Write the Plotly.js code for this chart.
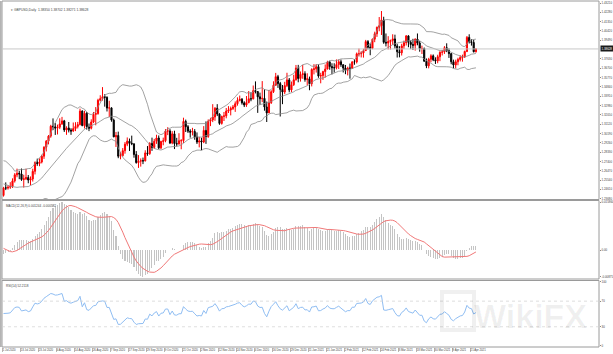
<!DOCTYPE html>
<html><head><meta charset="utf-8">
<script src="https://cdn.plot.ly/plotly-3.0.1.min.js"></script>
<style>html,body{margin:0;padding:0;background:#fff;}#chart{width:613px;height:354px;}</style>
</head><body><div id="chart"></div>
<script>
// ---- Data: GBPUSD daily, 1 Jul 2020 .. 23 Apr 2021 ----
const symbolTitle = "GBPUSD,Daily  1.38350 1.38702 1.38271 1.38628";
const lastPrice = 1.38628;
// closes before the visible window (May-Jun 2020), used only to seed indicators
const priorClose = [1.2490,1.2435,1.2437,1.2339,1.2338,1.2407,1.2334,1.2337,1.2218,1.2212,1.2111,1.2228,1.2243,1.2226,1.2198,1.2163,1.2204,1.2331,1.2273,1.2337,1.2344,
 1.2485,1.2567,1.2564,1.2570,1.2668,1.2673,1.2667,1.2740,1.2592,1.2549,1.2573,1.2567,1.2546,1.2479,1.2348,1.2474,1.2490,1.2424,1.2419,1.2335,1.2332,1.2401];

const open = [
 1.2401,1.2477,1.2475,1.2483,1.2491,1.2547,1.2607,1.2622,1.2616,1.2560,1.2568,1.2580,1.2555,1.2566,1.2642,1.2730,1.2720,1.2735,1.2793,1.2883,1.2943,1.2993,1.3092,
 1.3086,1.3073,1.3082,1.3115,1.3145,1.3055,1.3075,1.3053,1.3044,1.3068,1.3090,1.3108,1.3243,1.3098,1.3221,1.3087,1.3072,1.3134,1.3210,1.3218,1.3351,
 1.3367,1.3386,1.3380,1.3273,1.3275,1.3153,1.2986,1.2999,1.2793,1.2798,1.2848,1.2913,1.2943,1.2922,1.2917,1.2810,1.2729,1.2743,1.2748,1.2746,1.2826,1.2819,
 1.2920,1.2880,1.2942,1.2975,1.2876,1.2940,1.2947,1.3044,1.3045,1.2925,1.3016,1.2918,1.2915,1.2947,1.2948,1.3140,1.3087,1.3043,1.3033,1.3039,1.2985,1.2934,
 1.2945,1.2935,1.3050,1.2989,1.3143,1.3155,1.3184,1.3271,1.3213,1.3120,1.3190,1.3195,1.3243,1.3254,1.3269,1.3284,1.3316,1.3349,1.3361,1.3325,1.3303,
 1.3328,1.3366,1.3365,1.3447,1.3438,1.3385,1.3366,1.3370,1.3284,1.3225,1.3327,1.3436,1.3500,1.3586,1.3517,1.3459,1.3433,1.3497,1.3554,1.3454,1.3506,1.3555,
 1.3672,1.3568,1.3608,1.3615,1.3558,1.3565,1.3516,1.3658,1.3664,1.3686,1.3592,1.3598,1.3637,1.3662,1.3732,1.3687,1.3676,1.3675,1.3707,1.3735,
 1.3706,1.3672,1.3651,1.3671,1.3670,1.3734,1.3733,1.3814,1.3815,1.3823,1.3846,1.3936,1.3880,1.3868,1.3960,1.4014,1.4079,1.4094,1.4152,1.3929,
 1.3922,1.3936,1.3948,1.3963,1.3893,1.3835,1.3824,1.3893,1.3925,1.3993,1.3929,1.3907,1.3899,1.3962,1.3922,1.3866,1.3867,1.3740,1.3694,1.3760,1.3794,1.3754,1.3744,
 1.3785,1.3829,1.3833,1.3875,1.3846,1.3816,1.3735,1.3703,1.3735,1.3758,1.3777,1.3783,1.3838,1.3978,1.3935,1.3927,1.3835];
const high = [
 1.2487,1.2532,1.2503,1.2534,1.2572,1.2624,1.2669,1.2648,1.2670,1.2608,1.2668,1.2605,1.2591,1.2668,1.2741,1.2769,1.2771,1.2808,1.2892,1.2954,1.3004,1.3106,1.3170,
 1.3124,1.3108,1.3171,1.3185,1.3155,1.3091,1.3134,1.3072,1.3129,1.3132,1.3135,1.3267,1.3251,1.3246,1.3233,1.3119,1.3161,1.3234,1.3283,1.3366,1.3401,
 1.3482,1.3411,1.3390,1.3346,1.3279,1.3168,1.3035,1.3038,1.2835,1.2874,1.2934,1.2980,1.2969,1.2998,1.2918,1.2844,1.2804,1.2771,1.2779,1.2852,1.2894,1.2933,
 1.2978,1.2966,1.3007,1.3000,1.2947,1.2978,1.3063,1.3082,1.3063,1.3043,1.3047,1.2976,1.3022,1.2963,1.3177,1.3158,1.3103,1.3062,1.3076,1.3063,1.3030,1.2985,
 1.2977,1.3093,1.3140,1.3160,1.3176,1.3312,1.3283,1.3312,1.3221,1.3197,1.3234,1.3274,1.3292,1.3288,1.3304,1.3339,1.3380,1.3398,1.3373,1.3341,1.3393,
 1.3443,1.3431,1.3498,1.3539,1.3441,1.3427,1.3542,1.3460,1.3338,1.3454,1.3451,1.3540,1.3624,1.3604,1.3534,1.3503,1.3535,1.3625,1.3573,1.3538,1.3605,1.3703,
 1.3704,1.3638,1.3703,1.3640,1.3620,1.3587,1.3670,1.3711,1.3711,1.3709,1.3625,1.3645,1.3708,1.3745,1.3746,1.3720,1.3720,1.3758,1.3757,1.3757,
 1.3709,1.3703,1.3686,1.3717,1.3738,1.3760,1.3827,1.3867,1.3840,1.3865,1.3953,1.3951,1.3918,1.3966,1.4035,1.4086,1.4181,1.4241,1.4184,1.4017,
 1.3990,1.3955,1.4009,1.4005,1.3914,1.3890,1.3914,1.3946,1.4001,1.3999,1.3948,1.3964,1.3967,1.4017,1.3941,1.3896,1.3877,1.3768,1.3774,1.3810,1.3808,1.3779,1.3805,
 1.3840,1.3853,1.3891,1.3919,1.3870,1.3822,1.3756,1.3756,1.3775,1.3800,1.3806,1.3846,1.3992,1.4009,1.3961,1.3953,1.3870];
const low = [
 1.2390,1.2455,1.2460,1.2467,1.2476,1.2530,1.2583,1.2564,1.2547,1.2480,1.2555,1.2523,1.2503,1.2540,1.2611,1.2697,1.2693,1.2721,1.2766,1.2840,1.2911,1.2977,1.3053,
 1.3005,1.3010,1.3063,1.3105,1.3035,1.3006,1.3030,1.3006,1.3036,1.3043,1.3070,1.3100,1.3092,1.3070,1.3058,1.3043,1.3060,1.3123,1.3101,1.3207,1.3339,
 1.3347,1.3287,1.3239,1.3184,1.3137,1.2982,1.2885,1.2773,1.2762,1.2791,1.2818,1.2893,1.2845,1.2903,1.2778,1.2719,1.2676,1.2689,1.2714,1.2741,1.2797,1.2806,
 1.2846,1.2866,1.2916,1.2865,1.2863,1.2902,1.2932,1.3003,1.2914,1.2912,1.2864,1.2890,1.2908,1.2862,1.2924,1.3034,1.3025,1.2978,1.3000,1.2957,1.2915,1.2881,
 1.2854,1.2923,1.2916,1.2976,1.3093,1.3133,1.3146,1.3193,1.3106,1.3108,1.3144,1.3171,1.3224,1.3200,1.3254,1.3235,1.3297,1.3339,1.3307,1.3283,1.3285,
 1.3320,1.3341,1.3360,1.3419,1.3225,1.3307,1.3332,1.3247,1.3134,1.3223,1.3314,1.3423,1.3498,1.3474,1.3189,1.3312,1.3412,1.3482,1.3430,1.3432,1.3494,1.3547,
 1.3530,1.3537,1.3565,1.3536,1.3500,1.3451,1.3489,1.3609,1.3627,1.3575,1.3520,1.3554,1.3578,1.3660,1.3655,1.3609,1.3627,1.3659,1.3663,1.3684,
 1.3628,1.3611,1.3599,1.3566,1.3663,1.3705,1.3718,1.3787,1.3778,1.3776,1.3844,1.3858,1.3800,1.3860,1.3930,1.3983,1.4039,1.4002,1.3914,1.3888,
 1.3858,1.3857,1.3904,1.3866,1.3777,1.3779,1.3797,1.3862,1.3897,1.3880,1.3861,1.3852,1.3846,1.3899,1.3835,1.3812,1.3736,1.3671,1.3669,1.3730,1.3741,1.3713,1.3720,
 1.3741,1.3798,1.3813,1.3831,1.3773,1.3710,1.3670,1.3669,1.3700,1.3738,1.3736,1.3773,1.3831,1.3917,1.3896,1.3828,1.3827];
const close = [
 1.2477,1.2475,1.2483,1.2491,1.2547,1.2607,1.2622,1.2616,1.2560,1.2568,1.2580,1.2555,1.2566,1.2642,1.2730,1.2720,1.2735,1.2793,1.2883,1.2943,1.2993,1.3092,1.3086,
 1.3073,1.3082,1.3115,1.3145,1.3055,1.3075,1.3053,1.3044,1.3068,1.3090,1.3108,1.3243,1.3098,1.3221,1.3087,1.3072,1.3134,1.3210,1.3218,1.3351,1.3367,
 1.3386,1.3380,1.3273,1.3275,1.3153,1.2986,1.2999,1.2793,1.2798,1.2848,1.2913,1.2943,1.2922,1.2917,1.2810,1.2729,1.2743,1.2748,1.2746,1.2826,1.2819,1.2920,
 1.2880,1.2942,1.2975,1.2876,1.2940,1.2947,1.3044,1.3045,1.2925,1.3016,1.2918,1.2915,1.2947,1.2948,1.3140,1.3087,1.3043,1.3033,1.3039,1.2985,1.2934,1.2945,
 1.2935,1.3050,1.2989,1.3143,1.3155,1.3184,1.3271,1.3213,1.3120,1.3190,1.3195,1.3243,1.3254,1.3269,1.3284,1.3316,1.3349,1.3361,1.3325,1.3303,1.3328,
 1.3366,1.3365,1.3447,1.3438,1.3385,1.3366,1.3370,1.3284,1.3225,1.3327,1.3436,1.3500,1.3586,1.3517,1.3459,1.3433,1.3497,1.3554,1.3454,1.3506,1.3555,1.3672,
 1.3568,1.3608,1.3615,1.3558,1.3565,1.3516,1.3658,1.3664,1.3686,1.3592,1.3598,1.3637,1.3662,1.3732,1.3687,1.3676,1.3675,1.3707,1.3735,1.3706,
 1.3672,1.3651,1.3671,1.3670,1.3734,1.3733,1.3814,1.3815,1.3823,1.3846,1.3936,1.3880,1.3868,1.3960,1.4014,1.4079,1.4094,1.4152,1.3929,1.3922,
 1.3936,1.3948,1.3963,1.3893,1.3835,1.3824,1.3893,1.3925,1.3993,1.3929,1.3907,1.3899,1.3962,1.3922,1.3866,1.3867,1.3740,1.3694,1.3760,1.3794,1.3754,1.3744,1.3785,
 1.3829,1.3833,1.3875,1.3846,1.3816,1.3735,1.3703,1.3735,1.3758,1.3777,1.3783,1.3838,1.3978,1.3935,1.3927,1.3835,1.3863];

// date labels shown every 8 bars
const dateLabels = ["1 Jul 2020","13 Jul 2020","23 Jul 2020","4 Aug 2020","14 Aug 2020","26 Aug 2020","7 Sep 2020","17 Sep 2020","29 Sep 2020","9 Oct 2020","21 Oct 2020","2 Nov 2020","12 Nov 2020","24 Nov 2020","4 Dec 2020","16 Dec 2020","29 Dec 2020","11 Jan 2021","21 Jan 2021","2 Feb 2021","12 Feb 2021","24 Feb 2021","8 Mar 2021","18 Mar 2021","30 Mar 2021","9 Apr 2021","21 Apr 2021"];
// price scale labels
const priceTicks = [1.43210,1.42280,1.41350,1.40420,1.39490,1.37630,1.36700,1.35770,1.34840,1.33910,1.32980,1.32050,1.31120,1.30190,1.29260,1.28330,1.27400,1.26470,1.25540,1.24610,1.23680];
const rsiTicks = [100,70,30,0];

// ---- Indicators (computed from closes, as the terminal does) ----
const all = priorClose.concat(close);
const off = priorClose.length, N = all.length;
const idx = close.map((_, i) => i);
const bbMid = [], bbUp = [], bbLo = [];
for (let i = off; i < N; i++) {
  let s = 0; for (let j = i - 19; j <= i; j++) s += all[j];
  const m = s / 20; let v = 0;
  for (let j = i - 19; j <= i; j++) v += (all[j] - m) ** 2;
  const sd = Math.sqrt(v / 20);
  bbMid.push(m); bbUp.push(m + 2 * sd); bbLo.push(m - 2 * sd);
}
function ema(arr, n) { const k = 2 / (n + 1); const o = [arr[0]]; for (let i = 1; i < arr.length; i++) o.push(arr[i] * k + o[i - 1] * (1 - k)); return o; }
const e12 = ema(all, 12), e26 = ema(all, 26);
const macdAll = all.map((_, i) => e12[i] - e26[i]);
const sigAll = macdAll.map((_, i) => { if (i < 8) return macdAll[i]; let s = 0; for (let j = i - 8; j <= i; j++) s += macdAll[j]; return s / 9; });
const macd = macdAll.slice(off), sig = sigAll.slice(off);
const rsiAll = new Array(N).fill(50);
let ag = 0, al = 0;
for (let i = 1; i <= 14; i++) { const d = all[i] - all[i - 1]; if (d > 0) ag += d; else al -= d; }
ag /= 14; al /= 14;
rsiAll[14] = 100 - 100 / (1 + ag / al);
for (let i = 15; i < N; i++) { const d = all[i] - all[i - 1]; ag = (ag * 13 + Math.max(d, 0)) / 14; al = (al * 13 + Math.max(-d, 0)) / 14; rsiAll[i] = al === 0 ? 100 : 100 - 100 / (1 + ag / al); }
const rsi = rsiAll.slice(off);
const mMax = Math.max(...macd, ...sig), mMin = Math.min(...macd, ...sig);
const mSpan = mMax - mMin;

// ---- Layout geometry ----
const H = 346, B = 347; // plot area from y=1 to y=347
const dom = (top, bot) => [(B - bot) / H, (B - top) / H];
const dMain = dom(1, 199.5), dMacd = dom(200.5, 279), dRsi = dom(280.5, 347);
const FONT = "Liberation Sans, Arial, sans-serif";
const gray = "#9a9a9a";
const axFont = {size: 2.9, color: "#444", family: FONT};

const traces = [
  {type: "scatter", mode: "lines", x: idx, y: bbUp, line: {color: "#8a8a8a", width: 0.8}, hoverinfo: "skip", xaxis: "x", yaxis: "y"},
  {type: "scatter", mode: "lines", x: idx, y: bbMid, line: {color: "#8a8a8a", width: 0.8}, hoverinfo: "skip", xaxis: "x", yaxis: "y"},
  {type: "scatter", mode: "lines", x: idx, y: bbLo, line: {color: "#8a8a8a", width: 0.8}, hoverinfo: "skip", xaxis: "x", yaxis: "y"},
  {type: "candlestick", x: idx, open: open, high: high, low: low, close: close, xaxis: "x", yaxis: "y",
   increasing: {line: {color: "#ff0000", width: 1}, fillcolor: "#ff0000"},
   decreasing: {line: {color: "#000000", width: 1}, fillcolor: "#000000"},
   whiskerwidth: 0, hoverinfo: "skip"},
  {type: "bar", x: idx, y: macd, width: 0.45, marker: {color: "#c4c4c4", line: {width: 0}}, xaxis: "x", yaxis: "y2", hoverinfo: "skip"},
  {type: "scatter", mode: "lines", x: idx, y: sig, line: {color: "#f07878", width: 1}, xaxis: "x", yaxis: "y2", hoverinfo: "skip"},
  {type: "scatter", mode: "lines", x: idx, y: rsi, line: {color: "#8fbdf2", width: 1}, xaxis: "x", yaxis: "y3", hoverinfo: "skip"}
];

const tickIdx = dateLabels.map((_, k) => k * 8 - 0.5);
const frame = (d) => ({type: "rect", xref: "paper", yref: "paper", x0: 0, x1: 1, y0: d[0], y1: d[1], line: {color: gray, width: 1}});
const px = (x) => (x - 2) / 597, py = (y) => (B - y) / H;
const layout = {
  width: 613, height: 354,
  margin: {l: 2, r: 14, t: 1, b: 7},
  paper_bgcolor: "#ffffff", plot_bgcolor: "#ffffff",
  showlegend: false, bargap: 0, dragmode: false,
  font: {family: FONT, size: 3, color: "#333"},
  xaxis: {range: [-0.67, 264.7], anchor: "y3", showgrid: false, zeroline: false,
    rangeslider: {visible: false}, tickvals: tickIdx, ticktext: dateLabels, tickangle: 0,
    ticks: "outside", ticklen: 4, tickcolor: "#888", tickwidth: 0.6,
    ticklabelposition: "outside right", tickfont: {size: 2.8, color: "#444", family: FONT}, showline: false},
  yaxis: {domain: dMain, range: [1.2361, 1.4341], side: "right", showgrid: false, zeroline: false,
    tickvals: priceTicks, ticktext: priceTicks.map(v => v.toFixed(5)), ticks: "outside", ticklen: 1, tickcolor: "#888",
    tickfont: axFont},
  yaxis2: {domain: dMacd, range: [mMin - mSpan * 0.03, mMax + mSpan * 0.02], side: "right", showgrid: false, zeroline: false,
    tickvals: [mMax, 0, mMin], ticktext: [mMax.toFixed(6), "0.00", mMin.toFixed(5)], ticks: "outside", ticklen: 1, tickcolor: "#888",
    tickfont: axFont},
  yaxis3: {domain: dRsi, range: [-1.6, 102.3], side: "right", showgrid: false, zeroline: false,
    tickvals: rsiTicks, ticktext: rsiTicks.map(String), ticks: "outside", ticklen: 1, tickcolor: "#888",
    tickfont: axFont},
  shapes: [
    frame(dMain), frame(dMacd), frame(dRsi),
    {type: "rect", xref: "paper", yref: "paper", x0: -0.0034, x1: -0.0005, y0: 0, y1: 1, fillcolor: "#b4b4b4", line: {width: 0}},
    {type: "line", xref: "paper", yref: "y", x0: 0, x1: 1, y0: lastPrice, y1: lastPrice, line: {color: "#c8c8c8", width: 1}},
    {type: "line", xref: "paper", yref: "y3", x0: 0, x1: 1, y0: 70, y1: 70, line: {color: "#d0d0d0", width: 0.7, dash: "dot"}},
    {type: "line", xref: "paper", yref: "y3", x0: 0, x1: 1, y0: 30, y1: 30, line: {color: "#d0d0d0", width: 0.7, dash: "dot"}},
    // faint watermark logo frame
    {type: "rect", xref: "paper", yref: "paper", x0: px(442), x1: px(474), y0: py(330), y1: py(292), line: {color: "rgba(0,0,0,0.06)", width: 4}, fillcolor: "rgba(0,0,0,0)"}
  ],
  annotations: [
    {xref: "paper", yref: "paper", x: 0.012, y: py(10), xanchor: "left", yanchor: "middle", showarrow: false,
     text: "▾ " + symbolTitle, font: {size: 3.3, color: "#444", family: FONT}},
    {xref: "paper", yref: "paper", x: 0.004, y: py(205.5), xanchor: "left", yanchor: "middle", showarrow: false,
     text: "MACD(12,26,9) " + macd[macd.length - 1].toFixed(6) + " " + sig[sig.length - 1].toFixed(6), font: {size: 3.1, color: "#444", family: FONT}},
    {xref: "paper", yref: "paper", x: 0.004, y: py(285.5), xanchor: "left", yanchor: "middle", showarrow: false,
     text: "RSI(14) " + rsi[rsi.length - 1].toFixed(4), font: {size: 3.1, color: "#444", family: FONT}},
    {xref: "paper", yref: "y", x: 1.001, y: lastPrice, xanchor: "left", yanchor: "middle", showarrow: false,
     text: lastPrice.toFixed(5), bgcolor: "#1a1a1a", borderpad: 0.5, font: {size: 2.9, color: "#ffffff", family: FONT}},
    {xref: "paper", yref: "paper", x: px(530), y: py(316), xanchor: "center", yanchor: "middle", showarrow: false,
     text: "<b>WikiFX</b>", font: {size: 34, color: "rgba(0,0,0,0.06)", family: FONT}}
  ]
};
Plotly.newPlot("chart", traces, layout, {staticPlot: true, displayModeBar: false});
</script>
</body></html>
